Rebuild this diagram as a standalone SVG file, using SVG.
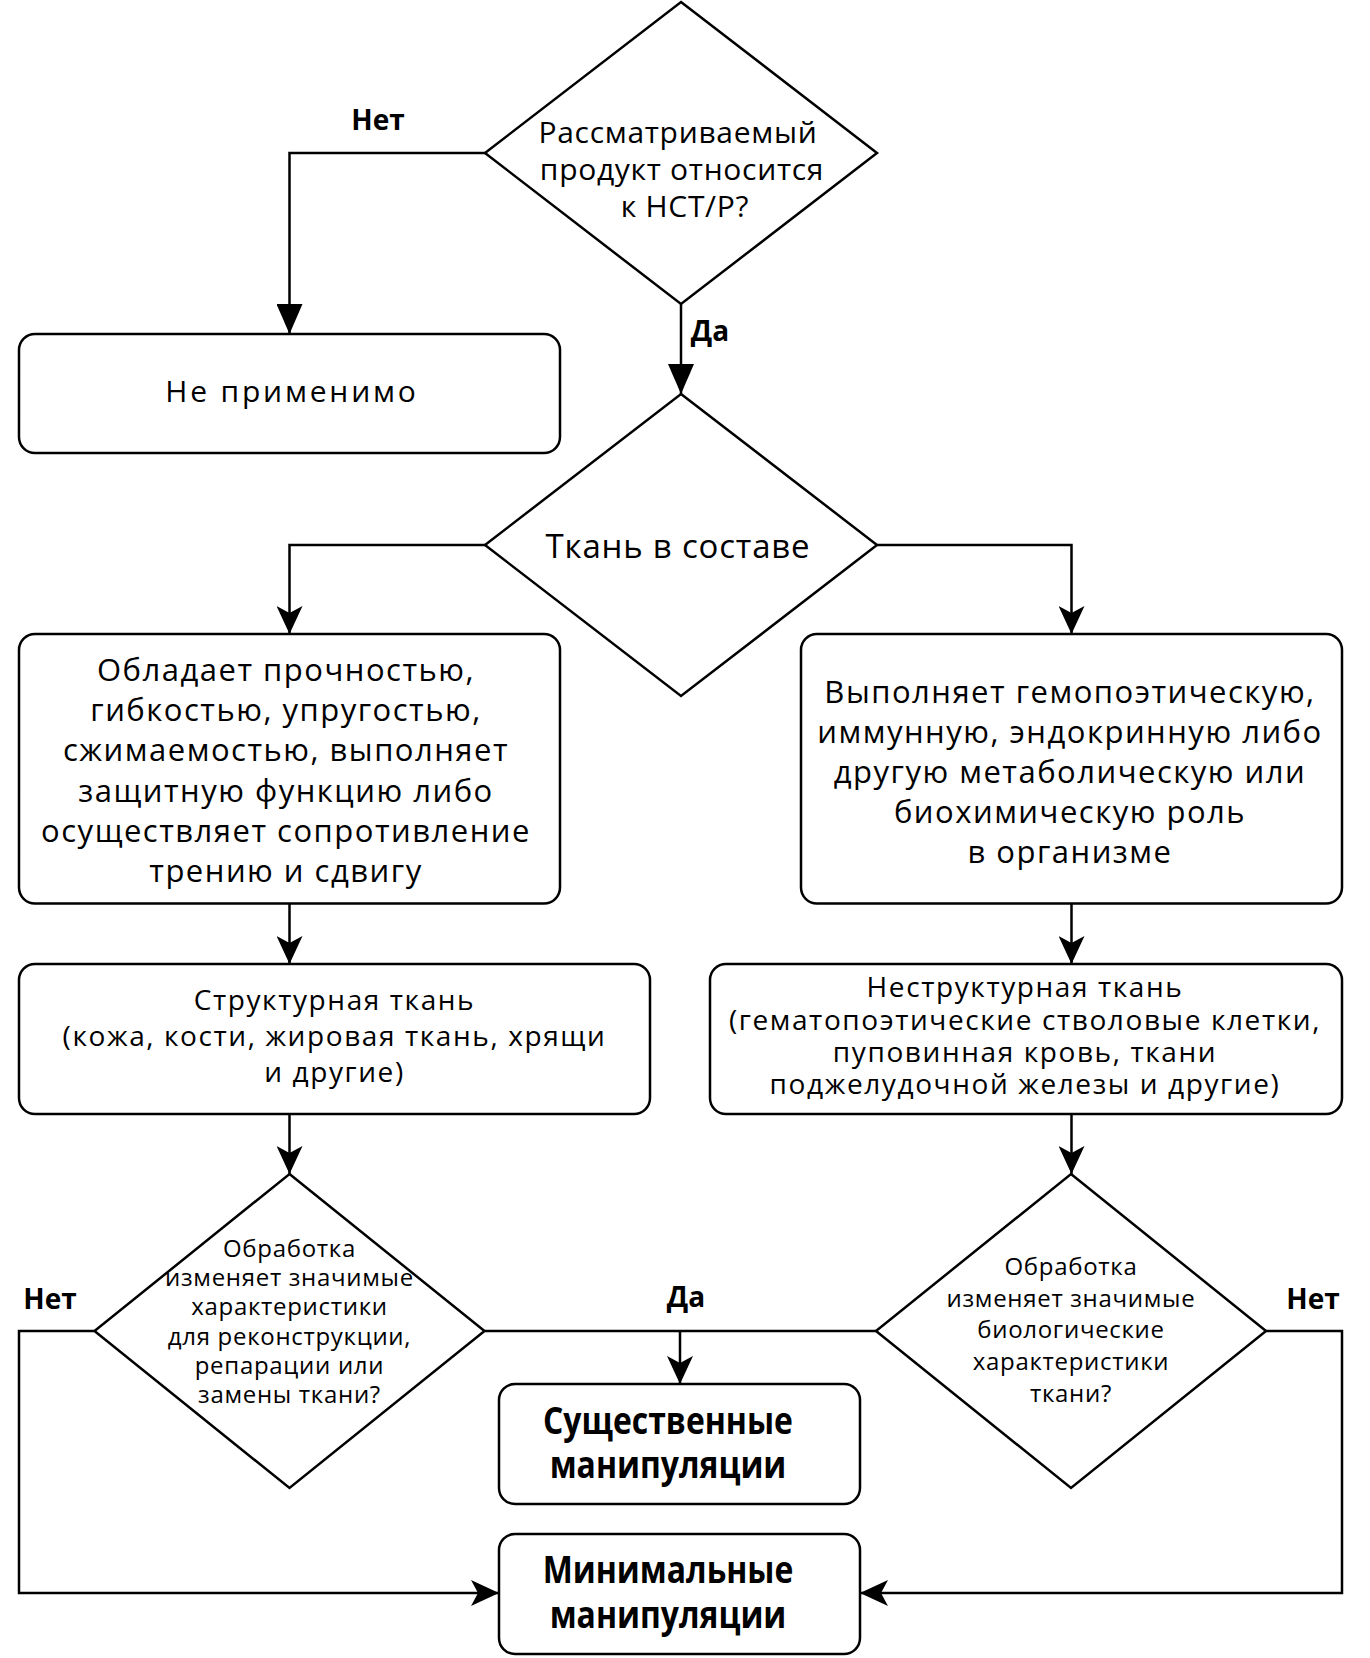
<svg xmlns="http://www.w3.org/2000/svg" width="1370" height="1658" viewBox="0 0 1370 1658">
<defs>
<marker id="block" markerUnits="userSpaceOnUse" viewBox="0 0 30 26" refX="30" refY="13" markerWidth="30" markerHeight="26" orient="auto">
<path d="M0,0 L30,13 L0,26 Z" fill="#000"/>
</marker>
<marker id="classic" markerUnits="userSpaceOnUse" viewBox="0 0 28 26" refX="28" refY="13" markerWidth="28" markerHeight="26" orient="auto">
<path d="M0,0 L28,13 L0,26 L7,13 Z" fill="#000"/>
</marker>
</defs>
<style>
.shape{fill:#fff;stroke:#000;stroke-width:2.5}
.edge{fill:none;stroke:#000;stroke-width:2.5}
text{font-family:"Open Sans","Noto Sans","DejaVu Sans",sans-serif;fill:#000;text-anchor:middle}
.tq{font-size:30px;letter-spacing:0.7px}
.tna{font-size:30px;letter-spacing:2.8px}
.tk{font-size:33px;letter-spacing:0.8px}
.t31{font-size:31px;letter-spacing:1.5px}
.t28{font-size:28px;letter-spacing:1.6px}
.t24{font-size:24px;letter-spacing:0.7px}
.bold{font-weight:bold;font-size:38px}
.lbl{font-weight:bold;font-size:28px}
</style>
<rect width="1370" height="1658" fill="#fff"/>
<g id="connectors">
<path class="edge" d="M485,153 H289.5 V334" marker-end="url(#block)"/>
<path class="edge" d="M681,304 V394" marker-end="url(#block)"/>
<path class="edge" d="M485,545 H289.5 V634" marker-end="url(#classic)"/>
<path class="edge" d="M877,545 H1071.5 V634" marker-end="url(#classic)"/>
<path class="edge" d="M289.5,903.5 V964" marker-end="url(#classic)"/>
<path class="edge" d="M1071.5,903.5 V964" marker-end="url(#classic)"/>
<path class="edge" d="M289.5,1114 V1174" marker-end="url(#classic)"/>
<path class="edge" d="M1071.5,1114 V1174" marker-end="url(#classic)"/>
<path class="edge" d="M94.5,1331 H19 V1593 H499" marker-end="url(#classic)"/>
<path class="edge" d="M484.5,1331 H876"/>
<path class="edge" d="M680,1331 V1384" marker-end="url(#classic)"/>
<path class="edge" d="M1266,1331 H1342 V1593 H860" marker-end="url(#classic)"/>
<text class="lbl" x="378" y="130">Нет</text>
<text class="lbl" x="710" y="341">Да</text>
<text class="lbl" x="50" y="1309">Нет</text>
<text class="lbl" x="686" y="1307">Да</text>
<text class="lbl" x="1313" y="1309">Нет</text>
</g>
<g id="q1">
<polygon class="shape" points="681,2 877,153 681,304 485,153"/>
<text class="tq" x="678" y="143">Рассматриваемый</text>
<text class="tq" x="682" y="180">продукт относится</text>
<text class="tq" x="685" y="217">к НСТ/Р?</text>
</g>
<g id="na">
<rect class="shape" x="19" y="334" width="541" height="119" rx="16"/>
<text class="tna" x="292" y="402">Не применимо</text>
</g>
<g id="q2">
<polygon class="shape" points="681,394 877,545 681,696 485,545"/>
<text class="tk" x="678" y="558">Ткань в составе</text>
</g>
<g id="structProps">
<rect class="shape" x="19" y="634" width="541" height="269.5" rx="16"/>
<text class="t31" x="286" y="681">Обладает прочностью,</text>
<text class="t31" x="286" y="721.2">гибкостью, упругостью,</text>
<text class="t31" x="286" y="761.4">сжимаемостью, выполняет</text>
<text class="t31" x="286" y="801.6">защитную функцию либо</text>
<text class="t31" x="286" y="841.8">осуществляет сопротивление</text>
<text class="t31" x="286" y="882">трению и сдвигу</text>
</g>
<g id="nonStructProps">
<rect class="shape" x="801" y="634" width="541" height="269.5" rx="16"/>
<text class="t31" x="1070" y="703">Выполняет гемопоэтическую,</text>
<text class="t31" x="1070" y="743">иммунную, эндокринную либо</text>
<text class="t31" x="1070" y="783">другую метаболическую или</text>
<text class="t31" x="1070" y="823">биохимическую роль</text>
<text class="t31" x="1070" y="863">в организме</text>
</g>
<g id="struct">
<rect class="shape" x="19" y="964" width="631" height="150" rx="16"/>
<text class="t28" x="334.5" y="1010">Структурная ткань</text>
<text class="t28" x="334.5" y="1046">(кожа, кости, жировая ткань, хрящи</text>
<text class="t28" x="334.5" y="1082">и другие)</text>
</g>
<g id="nonStruct">
<rect class="shape" x="710" y="964" width="632" height="150" rx="16"/>
<text class="t28" x="1025" y="997">Неструктурная ткань</text>
<text class="t28" x="1025" y="1030">(гематопоэтические стволовые клетки,</text>
<text class="t28" x="1025" y="1062">пуповинная кровь, ткани</text>
<text class="t28" x="1025" y="1093.5">поджелудочной железы и другие)</text>
</g>
<g id="q3">
<polygon class="shape" points="289.5,1174 484.5,1331 289.5,1488 94.5,1331"/>
<text class="t24" x="289.5" y="1256.7">Обработка</text>
<text class="t24" x="289.5" y="1286">изменяет значимые</text>
<text class="t24" x="289.5" y="1315.3">характеристики</text>
<text class="t24" x="289.5" y="1344.6">для реконструкции,</text>
<text class="t24" x="289.5" y="1374">репарации или</text>
<text class="t24" x="289.5" y="1403.3">замены ткани?</text>
</g>
<g id="q4">
<polygon class="shape" points="1071,1174 1266,1331 1071,1488 876,1331"/>
<text class="t24" x="1071" y="1275">Обработка</text>
<text class="t24" x="1071" y="1306.7">изменяет значимые</text>
<text class="t24" x="1071" y="1338.4">биологические</text>
<text class="t24" x="1071" y="1370">характеристики</text>
<text class="t24" x="1071" y="1401.7">ткани?</text>
</g>
<g id="substantial">
<rect class="shape" x="499" y="1384" width="361" height="120" rx="16"/>
<g transform="translate(668,0) scale(0.84,1)">
<text class="bold" x="0" y="1434">Существенные</text>
<text class="bold" x="0" y="1478">манипуляции</text>
</g>
</g>
<g id="minimal">
<rect class="shape" x="499" y="1534" width="361" height="120" rx="16"/>
<g transform="translate(668,0) scale(0.84,1)">
<text class="bold" x="0" y="1583">Минимальные</text>
<text class="bold" x="0" y="1628">манипуляции</text>
</g>
</g>
</svg>
